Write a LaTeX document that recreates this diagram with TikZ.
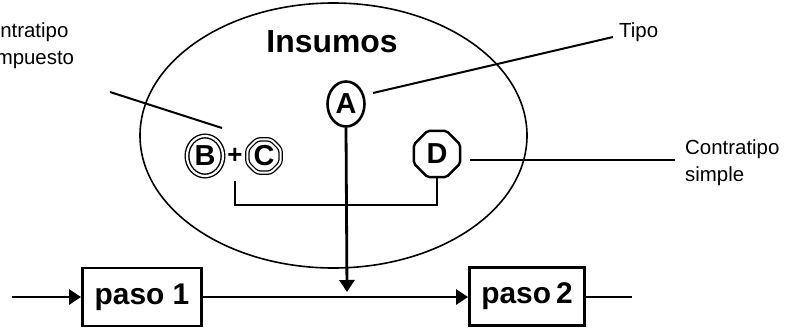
\documentclass[tikz,border=0pt]{standalone}
\usepackage{fontspec}
\setmainfont{Liberation Sans}
\usetikzlibrary{shapes.geometric,arrows.meta}
\tikzset{
  conn/.style={line width=2.8bp, line cap=butt},
  tip/.style={-{Triangle[width=15bp,length=12bp]}},
  pasobox/.style={draw, line width=2.8bp, minimum height=58bp, inner sep=0pt, font=\fontsize{30}{32}\selectfont\bfseries},
  lbl/.style={font=\fontsize{20.5}{27}\selectfont, align=left, inner sep=0pt},
  leader/.style={line width=2bp},
  letter/.style={inner sep=0pt, font=\fontsize{29}{30}\selectfont\bfseries},
}
\begin{document}
\begin{tikzpicture}[x=1bp,y=-1bp]
\useasboundingbox (0,0) rectangle (788,328);
% ellipse
\node[draw, ellipse, line width=1.6bp, minimum width=387bp, minimum height=265bp, inner sep=0pt] (ins) at (333.5,135.5) {};
\node[font=\fontsize{32}{34}\selectfont\bfseries, inner sep=0pt] (title) at (332,42) {Insumos};
% letters
\node[letter, draw, ellipse, line width=2.6bp, minimum width=37bp, minimum height=45bp] (A) at (346,104) {A};
\node[letter, draw, ellipse, double, double distance=2.2bp, line width=1.4bp, minimum width=36bp, minimum height=40bp] (B) at (205,156) {B};
\node[inner sep=0pt, font=\fontsize{26}{28}\selectfont\bfseries] (plus) at (235,156) {+};
\node[letter, draw, regular polygon, regular polygon sides=8, double, double distance=2bp, line width=1.3bp, minimum size=36bp, rounded corners=3bp] (C) at (264,156) {C};
\node[letter, draw, regular polygon, regular polygon sides=8, line width=2.4bp, minimum size=50bp, rounded corners=2bp] (D) at (437,154) {D};
% paso boxes
\node[pasobox, minimum width=119bp] (p1) at (142,297) {paso 1};
\node[pasobox, minimum width=115bp] (p2) at (527,296.5) {paso\,2};
% main line
\coordinate (in) at (12,297);
\coordinate (out) at (632,297);
\coordinate (mid) at (347,292);
\draw[conn, tip] (in) -- (p1.west);
\draw[conn, tip] (p1.east) -- (p2.west |- p1.east);
\draw[conn] (p2.east |- p1.east) -- (out);
% A to line
\draw[conn, tip] (A.south) -- (mid);
% bracket
\coordinate (bcs) at (235,181);
\draw[conn] (bcs) -- ++(0,24) -| (D.south);
% Tipo
\coordinate (tipost) at (373,93);
\coordinate (tipoend) at (613,37);
\draw[leader] (tipost) -- (tipoend);
\node[lbl, anchor=west] (tipo) at (619,32) {Tipo};
% Contratipo simple
\coordinate (simst) at (470,160);
\coordinate (simend) at (675,160);
\draw[leader, line width=2.4bp] (simst) -- (simend);
\node[lbl, anchor=west] (simple) at (685,163) {Contratipo\\simple};
% Contratipo compuesto
\coordinate (comp1) at (110,92);
\coordinate (comp2) at (222,128);
\draw[leader] (comp1) -- (comp2);
\node[lbl, anchor=west] (comp) at (-26,46) {Contratipo\\compuesto};
\end{tikzpicture}
\end{document}
